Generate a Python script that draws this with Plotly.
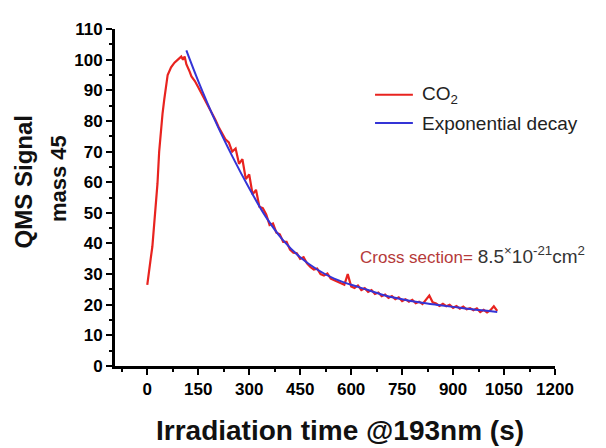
import plotly.graph_objects as go

# ---- data ----
co2_t = [0, 5, 10, 15, 20, 25, 30, 35, 40, 45, 50, 55, 60, 70, 80, 90, 100, 105, 110, 115, 120, 125,
         130, 140, 150, 160, 170, 180, 190, 200, 210, 220, 230, 240, 250, 260, 270, 280, 290, 300,
         310, 320, 330, 340, 350, 360, 370, 380, 390, 400, 410, 420, 430, 440, 450, 460, 470, 480,
         490, 500, 510, 520, 530, 540, 550, 560, 570, 580, 590, 600, 610, 620, 630, 640, 650, 660,
         670, 680, 690, 700, 710, 720, 730, 740, 750, 760, 770, 780, 790, 800, 810, 820, 830, 840,
         850, 860, 870, 880, 890, 900, 910, 920, 930, 940, 950, 960, 970, 980, 990, 1000, 1010,
         1020, 1030]
co2_v = [26.5, 30, 35, 39, 45.5, 52, 59.5, 70, 78, 82.5, 87, 92, 95, 97.5, 99, 100, 101, 100, 101, 98.5, 97.5, 96,
         94.5, 93, 91, 89, 86.5, 84.5, 82.5, 80.5, 78, 76, 74, 73, 70, 71, 66, 67.5, 61, 62.5,
         56, 57.5, 52, 51.5, 49.5, 46, 46.5, 43.5, 43, 40.5, 40.5, 38, 37, 36.8, 35, 35.5, 33.5, 32.3,
         31.5, 31.8, 30, 29.5, 30.2, 28.5, 28, 27.6, 27.2, 26.5, 30, 26, 25.5, 26.3, 24.8, 25.4, 24.2, 24.8,
         23.5, 24, 22.8, 23.3, 22.2, 22.8, 21.8, 22.4, 21.2, 21.8, 21, 21.6, 20.5, 21, 20.2, 21.5, 23, 20.8,
         20.4, 19.6, 20.3, 19.5, 20, 19, 19.6, 18.7, 19.4, 18.5, 18.9, 18.2, 18.8, 17.6, 18.3, 17.5, 18.2,
         19.5, 18]

fit_t = [115, 150, 200, 250, 300, 350, 400, 450, 500, 550, 600, 650, 700, 750, 800, 850, 900, 950, 1000, 1030]
fit_v = [103, 93, 80, 68.5, 58, 48.5, 41, 35.5, 31.5, 28.5, 26.5, 24.8, 23, 21.8, 20.8, 20, 19.3, 18.6, 18, 17.6]

x_ticks = [0, 150, 300, 450, 600, 750, 900, 1050, 1200]
x_tick_text = ["0", "150", "300", "450", "600", "750", "900", "1050", "1200"]
y_ticks = [0, 10, 20, 30, 40, 50, 60, 70, 80, 90, 100, 110]

RED = "#e8231f"
BLUE = "#3434d6"
FONT = "Liberation Sans, Arial, sans-serif"

fig = go.Figure()
fig.add_trace(go.Scatter(x=co2_t, y=co2_v, mode="lines", name="CO<sub>2</sub>",
                         line=dict(color=RED, width=2.2), showlegend=False))
fig.add_trace(go.Scatter(x=fit_t, y=fit_v, mode="lines", name="Exponential decay",
                         line=dict(color=BLUE, width=2, shape="spline"), showlegend=False))

axis_common = dict(showgrid=False, zeroline=False, showline=True, linecolor="black", linewidth=3,
                   ticks="outside", ticklen=6, tickwidth=2, tickcolor="black",
                   tickfont=dict(family=FONT, size=17, color="black", weight="bold"))

fig.update_xaxes(range=[-95, 1200], tickvals=x_ticks, ticktext=x_tick_text,
                 minor=dict(ticks="outside", ticklen=3, tickwidth=2, tickcolor="black", dtick=75, tick0=-75),
                 **axis_common)
fig.update_yaxes(range=[0, 110], tickvals=y_ticks,
                 minor=dict(ticks="outside", ticklen=3, tickwidth=2, tickcolor="black", dtick=5, tick0=5),
                 **axis_common)

# legend drawn manually
fig.add_shape(type="line", xref="paper", yref="paper", x0=0.591, x1=0.677, y0=0.805, y1=0.805,
              line=dict(color=RED, width=2))
fig.add_shape(type="line", xref="paper", yref="paper", x0=0.591, x1=0.677, y0=0.721, y1=0.721,
              line=dict(color=BLUE, width=2))
fig.add_annotation(xref="paper", yref="paper", x=0.693, y=0.805, xanchor="left", yanchor="middle",
                   text="CO<sub>2</sub>", showarrow=False, font=dict(family=FONT, size=19, color="#222"))
fig.add_annotation(xref="paper", yref="paper", x=0.693, y=0.721, xanchor="left", yanchor="middle",
                   text="Exponential decay", showarrow=False, font=dict(family=FONT, size=19, color="#222"))

# cross section note
fig.add_annotation(xref="paper", yref="paper", x=0.552, y=0.329, xanchor="left", yanchor="middle",
                   text="<span style='color:#b53a3a'>Cross section=</span> <span style='font-size:19px'>8.5<sup>×</sup>10<sup>-21</sup>cm<sup>2</sup></span>",
                   showarrow=False, font=dict(family=FONT, size=17, color="#333"))

# axis titles
fig.add_annotation(xref="paper", yref="paper", x=0.5114, y=-0.192, xanchor="center", yanchor="middle",
                   text="Irradiation time @193nm (s)", showarrow=False,
                   font=dict(family=FONT, size=28, color="#111", weight="bold"))
fig.add_annotation(xref="paper", yref="paper", x=-0.209, y=0.545, xanchor="center", yanchor="middle",
                   text="QMS Signal", textangle=-90, showarrow=False,
                   font=dict(family=FONT, size=24, color="#111", weight="bold"))
fig.add_annotation(xref="paper", yref="paper", x=-0.127, y=0.555, xanchor="center", yanchor="middle",
                   text="mass 45", textangle=-90, showarrow=False,
                   font=dict(family=FONT, size=22, color="#111", weight="bold"))

# page body adds an 8 px offset, so the figure is 8 px smaller on each side
fig.update_layout(width=598, height=440, margin=dict(l=107, r=51, t=14, b=82),
                  plot_bgcolor="white", paper_bgcolor="white")

fig.write_html("out.html")
